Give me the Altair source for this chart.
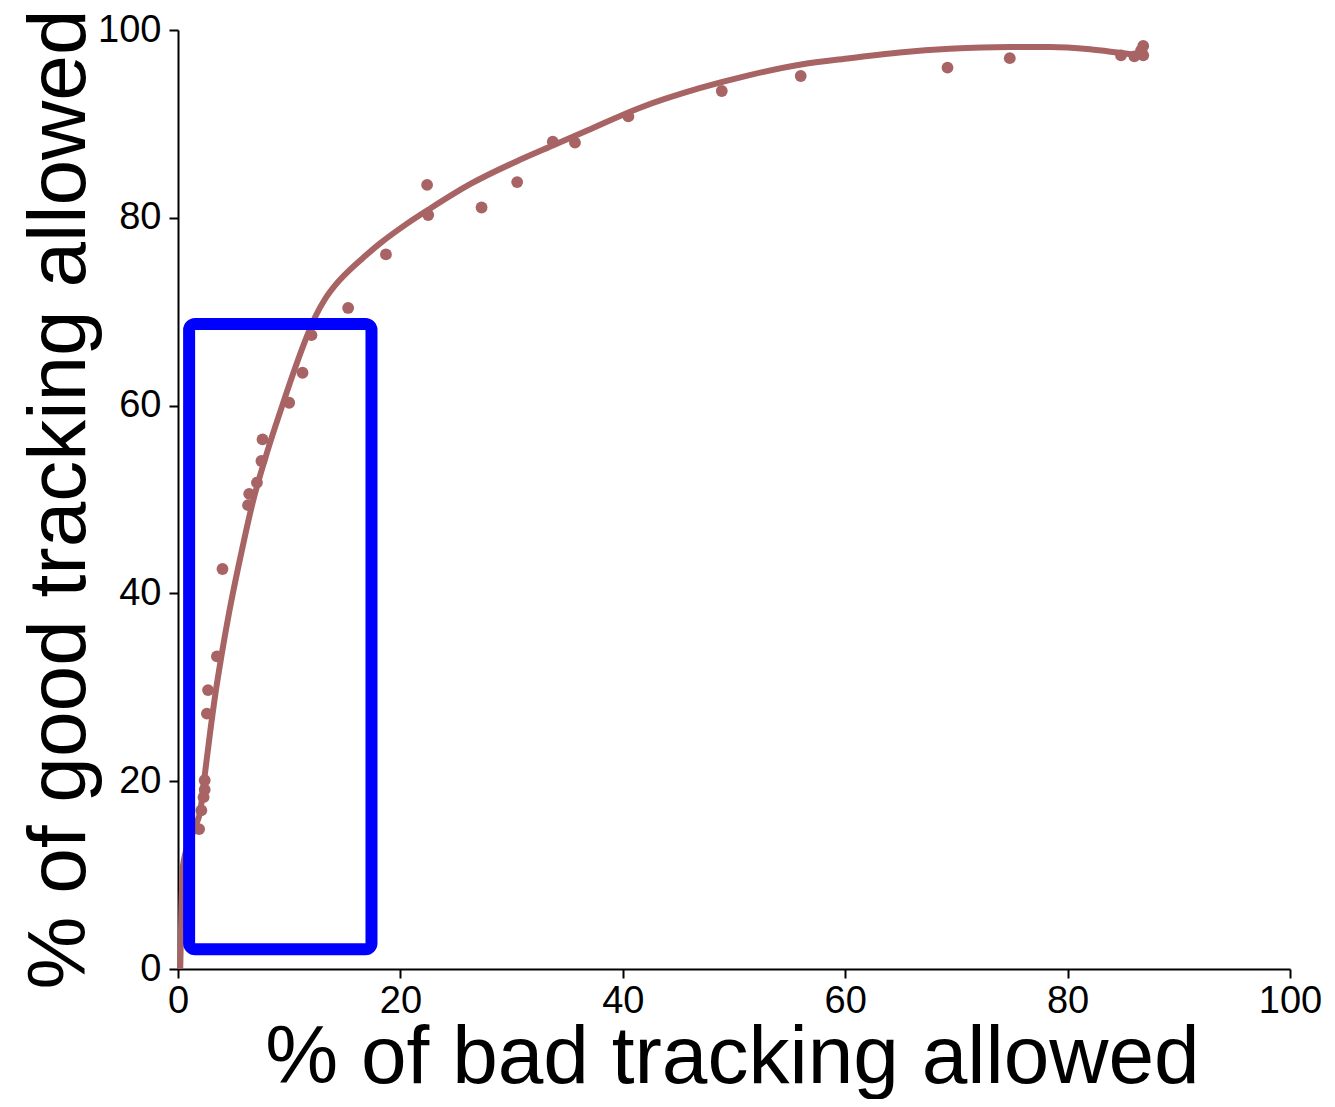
import altair as alt
import pandas as pd

dots_x = [1.9, 2.1, 2.3, 2.4, 2.4, 2.6, 2.7, 3.5, 4.0, 6.3, 6.4, 7.1, 7.5, 7.6,
          10.0, 11.2, 12.0, 15.3, 18.7, 22.5, 22.4, 27.3, 30.5, 33.7, 35.7,
          40.5, 48.9, 56.0, 69.2, 74.8, 84.8, 86.0, 86.8, 86.8, 86.6]
dots_y = [14.9, 16.9, 18.3, 19.1, 20.1, 27.2, 29.7, 33.3, 42.6, 49.4, 50.6, 51.8, 54.1, 56.4,
          60.3, 63.5, 67.5, 70.4, 76.1, 80.3, 83.5, 81.1, 83.8, 88.1, 88.0,
          90.8, 93.5, 95.1, 96.0, 97.0, 97.3, 97.2, 98.3, 97.3, 97.8]

# Fitted curve
curve_x = [0.2, 0.3, 0.45, 1.0, 1.6, 2.0, 2.4, 2.9, 3.4, 3.9, 4.6, 5.4, 6.0, 6.7, 7.9,
           8.7, 9.6, 10.5, 11.6, 12.4, 13.2, 14.2, 15.4, 16.8, 18.2, 20.5, 22.7,
           26.3, 30.8, 33.7, 36.8, 41.5, 46.9, 51.4, 55.9, 60.4, 64.9, 69.4, 74.8,
           78.4, 82.0, 84.5, 86.5]
curve_y = [0.0, 6.0, 11.0, 13.5, 15.3, 16.8, 20.6, 25.3, 29.6, 33.3, 38.0, 42.7, 46.0, 49.6, 54.6,
           57.6, 60.8, 63.9, 67.4, 69.6, 71.3, 72.9, 74.4, 75.9, 77.3, 79.3, 81.0,
           83.6, 86.2, 87.7, 89.3, 91.7, 93.8, 95.2, 96.3, 97.0, 97.6, 98.0, 98.2,
           98.2, 97.95, 97.6, 97.3]

# Highlight box (annotation)
box_x1 = [1.0]
box_x2 = [17.4]
box_y1 = [2.1]
box_y2 = [68.7]

ticks = [0, 20, 40, 60, 80, 100]

dots = pd.DataFrame({"x": dots_x, "y": dots_y})
curve = pd.DataFrame({"x": curve_x, "y": curve_y})
box = pd.DataFrame({"x1": box_x1, "x2": box_x2, "y1": box_y1, "y2": box_y2})

color = "#a86464"

xscale = alt.Scale(domain=[0, 100], nice=False)
yscale = alt.Scale(domain=[0, 100], nice=False)

xaxis = alt.Axis(values=ticks, title="% of bad tracking allowed",
                 titleX=554, titleY=113, titleBaseline="alphabetic", titleAlign="center",
                 labelPadding=4, labelFlush=False)
yaxis = alt.Axis(values=ticks, title="% of good tracking allowed",
                 titleX=-94, titleY=469, titleAngle=-90, titleBaseline="alphabetic",
                 titleAlign="center", labelPadding=8, labelFlush=False)

line = alt.Chart(curve).mark_line(color=color, strokeWidth=6, interpolate="monotone").encode(
    x=alt.X("x:Q", scale=xscale, axis=xaxis),
    y=alt.Y("y:Q", scale=yscale, axis=yaxis),
    order="x:Q",
)

points = alt.Chart(dots).mark_circle(color=color, size=140, opacity=1).encode(
    x=alt.X("x:Q", scale=xscale),
    y=alt.Y("y:Q", scale=yscale),
)

rect = alt.Chart(box).mark_rect(fill=None, filled=False, stroke="#0000ff", strokeWidth=12,
                                cornerRadius=6).encode(
    x=alt.X("x1:Q", scale=xscale),
    x2="x2:Q",
    y=alt.Y("y1:Q", scale=yscale),
    y2="y2:Q",
)

chart = alt.layer(line, points, rect).properties(
    width=1112, height=939,
    autosize=alt.AutoSizeParams(type="none"),
    padding={"left": 170, "top": 22, "right": 37, "bottom": 130},
).configure_view(stroke=None).configure_axis(
    grid=False,
    domainColor="black", domainWidth=2,
    tickColor="black", tickWidth=2, tickSize=9,
    labelFont="Liberation Sans", labelFontSize=38, labelColor="black",
    titleFont="Liberation Sans", titleFontSize=82, titleFontWeight="normal", titleColor="black",
)

chart.save("out.html", embed_options={"renderer": "svg", "actions": False})
